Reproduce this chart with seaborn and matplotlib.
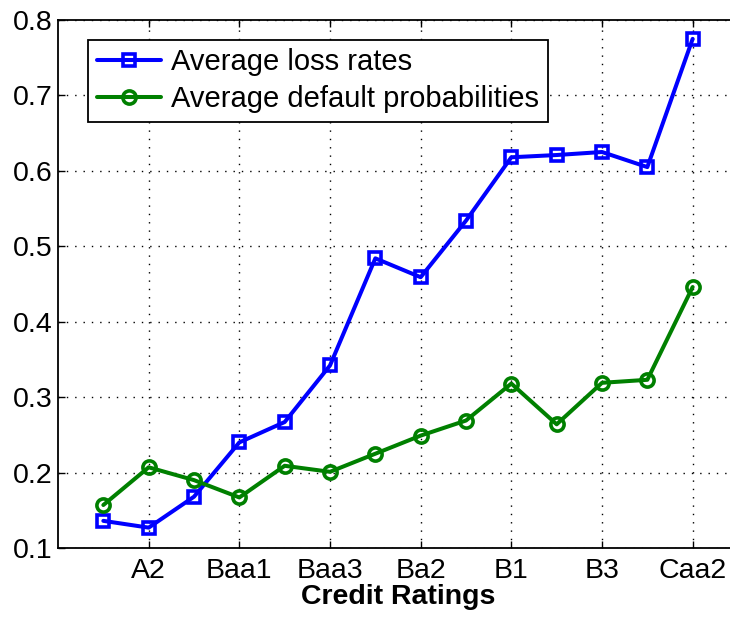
import matplotlib
matplotlib.use("Agg")
import matplotlib.pyplot as plt
import seaborn as sns
import pandas as pd

ratings = ["A1", "A2", "A3", "Baa1", "Baa2", "Baa3", "Ba1", "Ba2", "Ba3",
           "B1", "B2", "B3", "Caa1", "Caa2"]
loss_rates = [0.136, 0.127, 0.168, 0.240, 0.267, 0.342, 0.484, 0.459, 0.534,
              0.618, 0.621, 0.625, 0.605, 0.775]
default_probs = [0.157, 0.207, 0.190, 0.167, 0.209, 0.201, 0.225, 0.249, 0.269,
                 0.318, 0.264, 0.319, 0.323, 0.446]
tick_labels = ["A2", "Baa1", "Baa3", "Ba2", "B1", "B3", "Caa2"]
yticks = [0.1, 0.2, 0.3, 0.4, 0.5, 0.6, 0.7, 0.8]

sns.set_theme(style="white")
plt.rcParams["font.family"] = ["Liberation Sans", "DejaVu Sans"]
plt.rcParams["text.color"] = "black"
plt.rcParams["axes.labelcolor"] = "black"

pos = list(range(1, len(ratings) + 1))
df = pd.DataFrame({
    "pos": pos * 2,
    "value": loss_rates + default_probs,
    "series": ["Average loss rates"] * len(ratings)
              + ["Average default probabilities"] * len(ratings),
})

fig = plt.figure(figsize=(7.30, 6.23), dpi=100)
ax = fig.add_axes([58 / 730, 1 - 548 / 623, (738 - 58) / 730, (548 - 20) / 623])

sns.lineplot(data=df[df.series == "Average loss rates"], x="pos", y="value",
             ax=ax, color=(0, 0, 1), linewidth=2.9, marker="s", markersize=8.5,
             markerfacecolor="none", markeredgecolor=(0, 0, 1), markeredgewidth=2.6,
             label="Average loss rates")
sns.lineplot(data=df[df.series == "Average default probabilities"], x="pos", y="value",
             ax=ax, color=(0, 0.5, 0), linewidth=2.9, marker="o", markersize=9.5,
             markerfacecolor="none", markeredgecolor=(0, 0.5, 0), markeredgewidth=2.6,
             label="Average default probabilities")

tick_pos = [pos[ratings.index(t)] for t in tick_labels]
ax.set_xlim(0, 15)
ax.set_ylim(0.1, 0.8)
ax.set_xticks(tick_pos)
ax.set_xticklabels(tick_labels)
ax.set_yticks(yticks)
ax.set_yticklabels([f"{v:.1f}" for v in yticks])
ax.tick_params(axis="both", labelsize=20.5, direction="in", length=5, width=1,
               colors="black", labelcolor="black", top=True, right=True,
               bottom=True, left=True)
ax.tick_params(axis="y", pad=4)
ax.tick_params(axis="x", pad=7)
ax.grid(True, linestyle=(0, (1, 5)), color="black", linewidth=1.0)
for s in ax.spines.values():
    s.set_color("black")
    s.set_linewidth(1.3)
ax.set_xlabel("Credit Ratings", fontsize=20.5, fontweight="bold", labelpad=0,
              color="black")
ax.set_ylabel("")

leg = ax.legend(loc="upper left", bbox_to_anchor=(0.044, 0.963), fontsize=21,
                frameon=True, fancybox=False, framealpha=1, edgecolor="black",
                handlelength=2.2, handletextpad=0.35, borderpad=0.3,
                labelspacing=0.3, borderaxespad=0)
leg.get_frame().set_linewidth(1.3)
for t in leg.get_texts():
    t.set_color("black")

fig.savefig("out.png", dpi=100)
